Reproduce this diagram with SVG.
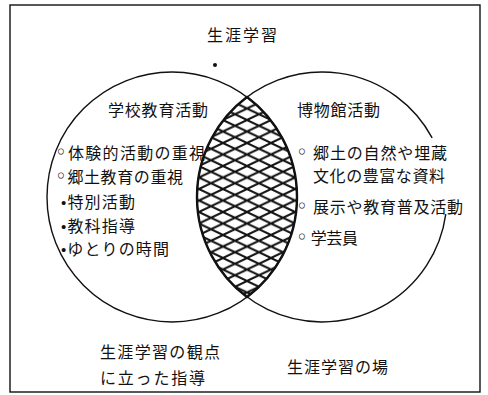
<svg xmlns="http://www.w3.org/2000/svg" width="488" height="395" viewBox="0 0 488 395">
<style>
  .t { font-family: "Noto Sans CJK JP", "Noto Sans", sans-serif; font-size: 16px; fill: #111; }
  .b { font-family: "DejaVu Sans", sans-serif; font-size: 20px; }
  .d { font-family: "Liberation Sans", sans-serif; font-size: 15px; }
  .line { fill: none; stroke: #111; stroke-width: 1.4; }
  .lens { stroke: #111; stroke-width: 2.4; }
</style>
<defs>
  <pattern id="hatch" patternUnits="userSpaceOnUse" x="247" y="97" width="24" height="11.5">
    <path d="M-2.4,-1.15 L26.4,12.65 M-2.4,12.65 L26.4,-1.15" stroke="#111" stroke-width="2" fill="none"/>
  </pattern>
</defs>
<rect x="0" y="0" width="488" height="395" fill="#fff"/>
<g id="frame">
  <rect x="10" y="5" width="470" height="387" class="line" stroke-width="1.6"/>
</g>
<g id="connectors">
  <circle id="school-circle" cx="172" cy="197" r="125" class="line"/>
  <path id="museum-circle" d="M445.8,214.1 A125,125 0 1 1 432.16,137.93" class="line"/>
  <path id="overlap" d="M247,97 A125,125 0 0 1 247,297 A125,125 0 0 1 247,97 Z" fill="url(#hatch)" class="lens"/>
</g>
<g id="title">
  <text class="t" x="207" y="41" textLength="70">生涯学習</text>
  <circle cx="215" cy="65" r="2" fill="#111"/>
</g>
<g id="school">
  <text class="t" x="108" y="116" textLength="100">学校教育活動</text>
  <text class="t" x="55" y="159" textLength="150"><tspan class="b">◦</tspan>体験的活動の重視</text>
  <text class="t" x="55" y="183" textLength="128"><tspan class="b">◦</tspan>郷土教育の重視</text>
  <text class="t" x="61" y="208" textLength="74"><tspan class="d">•</tspan>特別活動</text>
  <text class="t" x="61" y="232" textLength="74"><tspan class="d">•</tspan>教科指導</text>
  <text class="t" x="61" y="255" textLength="108"><tspan class="d">•</tspan>ゆとりの時間</text>
</g>
<g id="museum">
  <text class="t" x="297" y="116" textLength="83">博物館活動</text>
  <text class="t" x="296" y="159" textLength="151"><tspan class="b">◦</tspan> 郷土の自然や埋蔵</text>
  <text class="t" x="313" y="182" textLength="132">文化の豊富な資料</text>
  <text class="t" x="296" y="213" textLength="167"><tspan class="b">◦</tspan> 展示や教育普及活動</text>
  <text class="t" x="296" y="244" textLength="62"><tspan class="b">◦</tspan> 学芸員</text>
</g>
<g id="bottom-left">
  <text class="t" x="100" y="358" textLength="120">生涯学習の観点</text>
  <text class="t" x="100" y="384" textLength="105">に立った指導</text>
</g>
<g id="bottom-right">
  <text class="t" x="287" y="373" textLength="101">生涯学習の場</text>
</g>
</svg>
